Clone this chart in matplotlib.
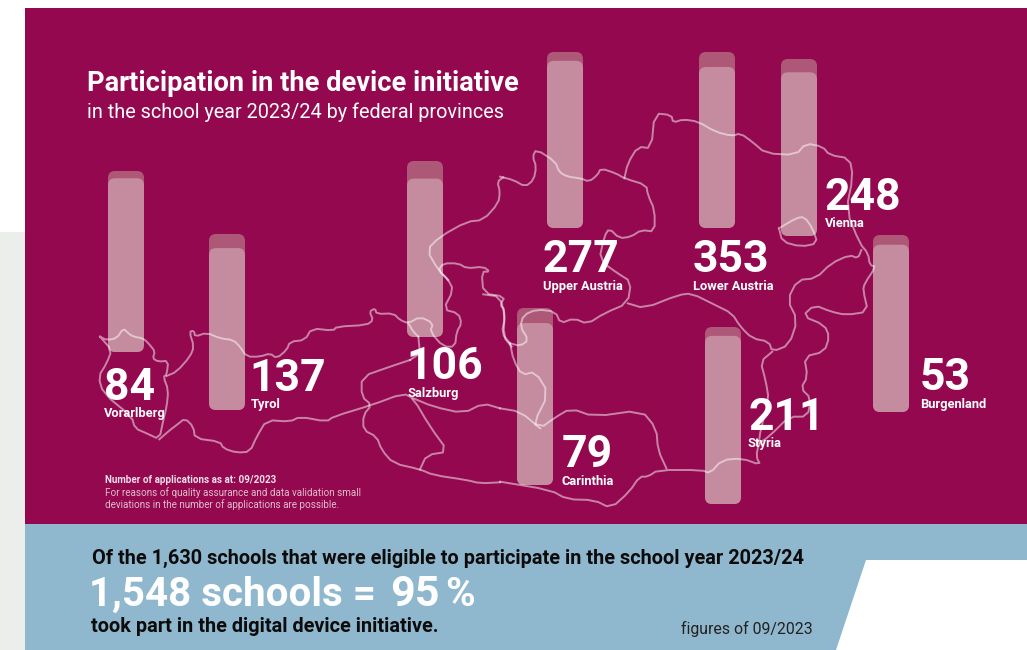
import numpy as np
import matplotlib
matplotlib.use('Agg')
import matplotlib.pyplot as plt
from matplotlib.patches import FancyBboxPatch, Polygon, Rectangle

plt.rcParams['font.family'] = ['Roboto', 'DejaVu Sans']

# ---- #
# Data #
# ---- #

provinces = ['Vorarlberg', 'Tyrol', 'Salzburg', 'Upper Austria', 'Lower Austria',
             'Vienna', 'Burgenland', 'Styria', 'Carinthia']
applications = [84, 137, 106, 277, 353, 248, 53, 211, 79]
# filled share of each tube
fill_share = [0.96, 0.92, 0.90, 0.95, 0.915, 0.925, 0.945, 0.95, 0.915]

title = 'Participation in the device initiative'
subtitle = 'in the school year 2023/24 by federal provinces'

# ------ #
# Layout #
# ------ #

tube_x = [108, 209, 407, 547, 699, 781, 873, 705, 517]
tube_top = [171, 234, 161, 52, 52, 59, 235, 327, 308]
tube_hs = [181, 176, 176, 176, 176, 177, 177, 177, 177]
tube_w = 36
num_xy = [(104, 400), (249, 391), (406, 379), (543, 272), (693, 272),
          (825, 210), (920, 390), (749, 430), (562, 467)]
lab_xy = [(104, 417), (251, 408), (408, 397), (543, 290), (693, 290),
          (825, 227), (920, 408), (748, 447), (562, 485)]

# map outline, traced on crops of the picture
W = [(300, 560), (320, 570), (350, 565), (370, 535), (385, 550), (400, 560), (430, 565), (450, 585),
     (465, 605), (458, 625), (475, 635), (505, 632), (500, 675), (490, 680), (505, 720), (500, 770),
     (490, 810), (478, 868), (440, 850), (405, 835), (395, 800), (310, 730), (295, 680), (320, 640),
     (335, 600), (300, 560)]
N1 = [(500, 678), (530, 665), (570, 620), (582, 590), (568, 545), (582, 542), (585, 560), (620, 548),
      (660, 565), (700, 570), (720, 590), (740, 620), (780, 620), (810, 610), (830, 625), (860, 600),
      (870, 575), (915, 570), (935, 535), (1000, 542), (1010, 530), (1100, 525), (1120, 510),
      (1108, 485), (1125, 475), (1130, 492), (1180, 490), (1200, 510), (1225, 520), (1260, 500),
      (1300, 520), (1290, 545), (1330, 590), (1365, 590), (1370, 545), (1385, 520), (1375, 490),
      (1330, 478), (1360, 420), (1345, 390), (1315, 360), (1330, 340), (1375, 340), (1400, 355),
      (1450, 350), (1470, 365), (1445, 365), (1450, 430), (1515, 440), (1500, 465), (1515, 480),
      (1510, 560), (1535, 590)]
N2 = [(1225, 520), (1240, 545), (1255, 560)]
SB = [(1345, 390), (1315, 360), (1280, 300), (1320, 260), (1400, 215), (1450, 210), (1495, 160),
      (1500, 125), (1492, 95), (1510, 82)]
S1 = [(1230, 630), (1170, 650), (1085, 680), (1085, 740), (1115, 765), (1090, 795), (1090, 840),
      (1130, 860), (1145, 900), (1180, 940), (1260, 958), (1300, 975), (1400, 990), (1440, 1000),
      (1500, 997)]
S2 = [(1260, 958), (1280, 915), (1345, 905), (1290, 830), (1240, 745), (1210, 730), (1115, 765),
      (1000, 800), (980, 815), (900, 800), (870, 815), (800, 810), (770, 860), (750, 905), (710, 908),
      (670, 895), (660, 875), (585, 865), (580, 830), (555, 805), (530, 825), (510, 840), (478, 868)]
S3 = [(1240, 745), (1300, 770), (1390, 790), (1450, 760), (1500, 775)]
S4 = [(1230, 630), (1260, 610), (1255, 560)]

E1 = [(0, 410), (40, 420), (75, 440), (100, 420), (108, 380), (97, 350), (108, 328), (165, 365),
      (175, 395), (200, 410), (240, 415), (265, 425), (290, 405), (300, 385), (345, 400), (370, 415),
      (435, 435), (440, 465), (460, 510), (460, 575), (420, 570), (390, 590), (355, 595), (325, 565),
      (310, 590), (295, 660), (350, 700), (390, 725), (380, 790), (310, 820), (260, 852), (220, 835),
      (180, 850), (165, 815), (110, 808), (70, 825), (60, 860), (85, 900), (60, 918), (30, 910)]
E1b = [(30, 910), (5, 880), (15, 830), (0, 770), (-50, 763)]
E2 = [(370, 415), (380, 370), (410, 320), (450, 325), (460, 220), (510, 225), (515, 248), (545, 238),
      (590, 245), (640, 275), (690, 288), (715, 280), (750, 305), (790, 340), (880, 345), (910, 310),
      (960, 320), (980, 345), (1040, 355), (1050, 410), (1030, 510), (1070, 610), (1095, 640),
      (1100, 675), (1118, 680), (1085, 730), (1080, 750), (1095, 815), (1030, 825), (985, 815),
      (935, 795), (900, 828), (965, 855), (980, 890), (965, 935), (905, 950), (915, 1010), (895, 1045),
      (925, 1075), (915, 1130), (860, 1130), (800, 1190), (770, 1210), (762, 1250), (775, 1275),
      (720, 1255), (660, 1260), (625, 1300), (600, 1290), (470, 1290), (440, 1310), (415, 1310),
      (385, 1355), (330, 1405), (280, 1380), (200, 1378), (150, 1350), (0, 1325)]
E3 = [(380, 790), (430, 805), (530, 765), (570, 760), (640, 795), (690, 820), (715, 860), (750, 895),
      (800, 905), (810, 935), (860, 915), (885, 840), (855, 780), (885, 720), (940, 715), (985, 670),
      (1040, 645), (1065, 655), (1075, 630)]
E4 = [(810, 935), (775, 965), (790, 1020), (800, 1080), (775, 1170), (770, 1210)]
E5 = [(0, 1105), (60, 1115), (120, 1165), (160, 1135), (210, 1105), (280, 1130), (420, 1110),
      (465, 1165), (470, 1230), (495, 1285)]
E6 = [(30, 910), (40, 960), (65, 1005), (105, 995), (145, 1060), (100, 1150), (120, 1165)]
E7 = [(830, 565), (880, 535), (905, 530), (930, 565), (945, 610), (895, 620), (840, 605), (830, 565)]

west_lines = [W, N1, N2, SB, S1, S2, S3, S4]
east_lines = [E1, E1b, E2, E3, E4, E5, E6, E7]

# ------ #
# Colors #
# ------ #

MAGENTA = '#93084f'
BLUE = '#8fb7cd'


def soften(l):
	# cut the corners once, the traced lines are a bit angular
	p = np.array(l, dtype=float)
	q = [p[0]]
	for a, b in zip(p[:-1], p[1:]):
		q.append(0.75 * a + 0.25 * b)
		q.append(0.25 * a + 0.75 * b)
	q.append(p[-1])
	return np.array(q)


fig = plt.figure(figsize=(10.27, 6.5), dpi=100, facecolor='white')
ax = fig.add_axes([0, 0, 1, 1])
ax.set_xlim(0, 1027)
ax.set_ylim(650, 0)
ax.axis('off')

# page blocks
ax.add_patch(Rectangle((0, 232), 25, 418, color='#eceeec', lw=0))
ax.add_patch(Rectangle((25, 8), 1002, 516, color=MAGENTA, lw=0))
ax.add_patch(Rectangle((25, 524), 1002, 126, color=BLUE, lw=0))
ax.add_patch(Polygon([(866, 560), (1027, 560), (1027, 650), (836, 650)], color='white', lw=0))

# tubes
r = 7
for x, top, h, s in zip(tube_x, tube_top, tube_hs, fill_share):
	ax.add_patch(FancyBboxPatch((x + r, top + r), tube_w - 2 * r, h - 2 * r,
		boxstyle='round,pad=%d,rounding_size=%d' % (r, r), fc='#ae5877', ec='none', zorder=3))
	fill_h = s * h
	ax.add_patch(FancyBboxPatch((x + r, top + h - fill_h + r), tube_w - 2 * r, fill_h - 2 * r,
		boxstyle='round,pad=%d,rounding_size=%d' % (r, r), fc='#c58b9f', ec='none', zorder=4))

# map, half transparent so it shows on the magenta and on the tubes
for l in west_lines:
	p = soften(l)
	ax.plot(p[:, 0] / 3, p[:, 1] / 3 + 150, color='white', alpha=0.5, lw=1.4,
		solid_joinstyle='round', zorder=5)
for l in east_lines:
	p = soften(l)
	ax.plot(p[:, 0] / 2.975 + 500, p[:, 1] / 3 + 40, color='white', alpha=0.5, lw=1.4,
		solid_joinstyle='round', zorder=5)

# numbers and province names
for name, v, nxy, lxy in zip(provinces, applications, num_xy, lab_xy):
	ax.text(nxy[0], nxy[1], str(v), color='white', fontsize=32, fontweight='bold',
		ha='left', va='baseline', zorder=6)
	ax.text(lxy[0], lxy[1], name, color='white', fontsize=9.3, fontweight='bold',
		ha='left', va='baseline', zorder=6)

# headings
ax.text(87, 91, title, color='white', fontsize=19.6, fontweight='bold', va='baseline', zorder=6)
ax.text(87, 118, subtitle, color='white', fontsize=14.3, va='baseline', zorder=6)

# footnote
ax.text(105, 483, 'Number of applications as at: 09/2023', color='#f3dfe7', fontsize=7.15,
	fontweight='bold', va='baseline', zorder=6)
ax.text(105, 496, 'For reasons of quality assurance and data validation small', color='#e3bccb',
	fontsize=7.15, va='baseline', zorder=6)
ax.text(105, 508, 'deviations in the number of applications are possible.', color='#e3bccb',
	fontsize=7.15, va='baseline', zorder=6)

# bottom band
ax.text(92, 564, 'Of the 1,630 schools that were eligible to participate in the school year 2023/24',
	color='#0b0b0b', fontsize=14.3, fontweight='bold', va='baseline')
ax.text(89, 606, '1,548 schools =', color='white', fontsize=29, fontweight='bold', va='baseline')
ax.text(390, 606, '95', color='white', fontsize=31, fontweight='bold', va='baseline')
ax.text(445, 606, '%', color='white', fontsize=29, fontweight='bold', va='baseline')
ax.text(91, 632, 'took part in the digital device initiative.', color='#0b0b0b', fontsize=14.3,
	fontweight='bold', va='baseline')
ax.text(681, 634, 'figures of 09/2023', color='#222222', fontsize=11.4, va='baseline')

fig.savefig('out.png', dpi=100)
